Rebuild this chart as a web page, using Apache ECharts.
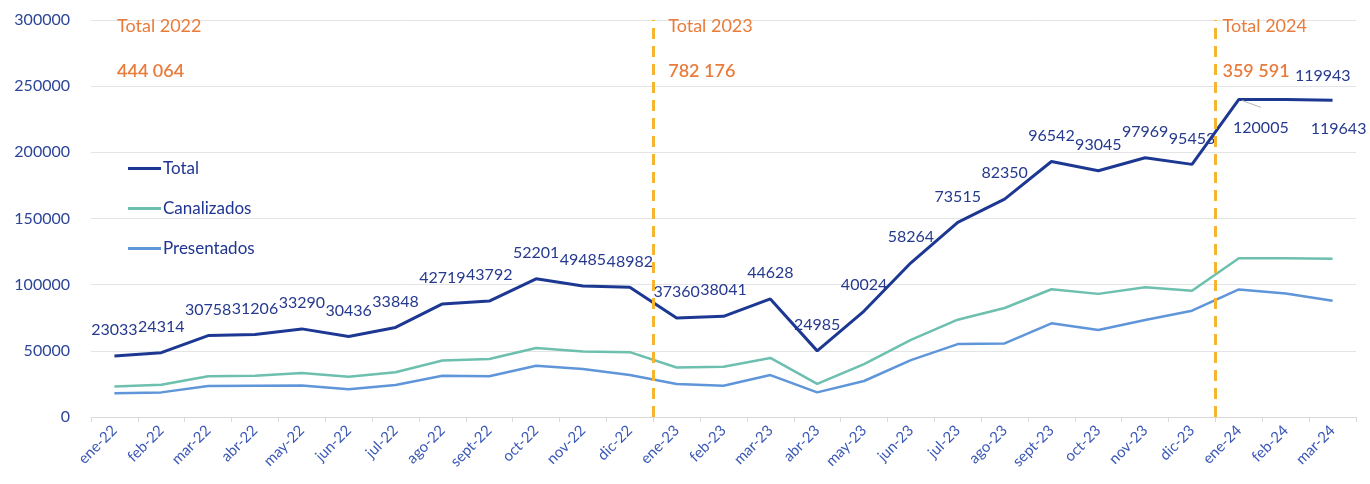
<!DOCTYPE html>
<html>
<head>
<meta charset="utf-8">
<script src="https://cdn.jsdelivr.net/npm/echarts@6/dist/echarts.min.js"></script>
<style>
  html, body { margin: 0; padding: 0; background: #ffffff; }
  #chart { width: 1370px; height: 484px; }
</style>
</head>
<body>
<div id="chart"></div>
<script>
// Months shown on the category axis
const months = ['ene-22','feb-22','mar-22','abr-22','may-22','jun-22','jul-22','ago-22','sept-22','oct-22','nov-22','dic-22',
                'ene-23','feb-23','mar-23','abr-23','may-23','jun-23','jul-23','ago-23','sept-23','oct-23','nov-23','dic-23',
                'ene-24','feb-24','mar-24'];

// Monthly series
const total = [46066, 48628, 61516, 62412, 66580, 60872, 67696, 85438, 87584, 104402, 98970, 97964,
               74720, 76082, 89256, 49970, 80048, 116528, 147030, 164700, 193084, 186090, 195938, 190906,
               240010, 239886, 239286];
const canalizados = [23033, 24314, 30758, 31206, 33290, 30436, 33848, 42719, 43792, 52201, 49485, 48982,
                     37360, 38041, 44628, 24985, 40024, 58264, 73515, 82350, 96542, 93045, 97969, 95453,
                     120005, 119943, 119643];
const presentados = [17900, 18600, 23400, 23600, 23800, 20900, 24200, 31200, 30800, 38700, 36300, 31700,
                     24900, 23600, 31700, 18600, 27200, 43000, 55100, 55600, 70800, 65700, 73300, 80300,
                     96400, 93400, 87800];

// Yearly totals written at the top of each year block
const yearLabels = ['Total 2022', 'Total 2023', 'Total 2024'];
const yearTotals = ['444 064', '782 176', '359 591'];
const yearStartIndex = [0, 12, 24];
// Year separators (between dic and ene)
const yearBreaks = [12, 24];

// Y axis ticks
const yMin = 0, yMax = 300000, yStep = 50000;

const navy = '#1d3893';
const labelBlue = '#25398f';
const orange = '#e97b3b';
const font = 'Lato, "Open Sans", sans-serif';

const chart = echarts.init(document.getElementById('chart'), null, { renderer: 'canvas' });

// Labels on the Total line show the Canalizados value of each month
const totalData = total.map((v, i) => {
  const item = { value: v };
  if (i === 24) {
    item.label = { position: 'bottom', distance: 20, offset: [22, 0] };
  } else if (i === 25) {
    item.label = { offset: [37, 2] };
  } else if (i === 26) {
    item.label = { position: 'bottom', distance: 20, offset: [6, 0] };
  }
  return item;
});

const option = {
  animation: false,
  backgroundColor: '#ffffff',
  textStyle: { fontFamily: font },
  grid: { left: 91, right: 14, top: 20, bottom: 67, containLabel: false },
  legend: {
    data: ['Total', 'Canalizados', 'Presentados'],
    orient: 'vertical',
    left: 123,
    top: 155,
    itemGap: 23,
    itemWidth: 33,
    itemHeight: 3,
    icon: 'rect',
    textStyle: { color: '#1f3590', fontSize: 17, fontFamily: font, padding: [0, 0, 0, -3] }
  },
  xAxis: [{
    type: 'category',
    data: months,
    boundaryGap: true,
    axisLine: { lineStyle: { color: '#d9d9d9', width: 1 } },
    axisTick: { show: true, length: 5, lineStyle: { color: '#d9d9d9' } },
    axisLabel: { rotate: 45, color: '#3b58b5', fontSize: 15, fontFamily: font, margin: 11 }
  }, {
    type: 'value',
    min: 0,
    max: months.length,
    show: false
  }],
  yAxis: {
    type: 'value',
    min: yMin,
    max: yMax,
    interval: yStep,
    axisLine: { show: false },
    axisTick: { show: false },
    splitLine: { lineStyle: { color: '#e4e4e4', width: 1 } },
    axisLabel: { color: '#2c4597', fontSize: 16, fontFamily: font, margin: 21, formatter: v => String(v) }
  },
  series: [{
    name: 'Total',
    type: 'line',
    data: totalData,
    showSymbol: true,
    symbol: 'circle',
    symbolSize: 0,
    lineStyle: { color: navy, width: 3 },
    itemStyle: { color: navy },
    z: 4,
    label: {
      show: true,
      position: 'top',
      distance: 18,
      color: labelBlue,
      fontSize: 16,
      fontFamily: font,
      formatter: p => String(canalizados[p.dataIndex])
    }
  }, {
    name: 'Canalizados',
    type: 'line',
    data: canalizados,
    showSymbol: false,
    symbol: 'none',
    lineStyle: { color: '#6dbfae', width: 2.5 },
    itemStyle: { color: '#6dbfae' },
    z: 3
  }, {
    name: 'Presentados',
    type: 'line',
    data: presentados,
    showSymbol: false,
    symbol: 'none',
    lineStyle: { color: '#5f95d9', width: 2.5 },
    itemStyle: { color: '#5f95d9' },
    z: 3
  }, {
    name: 'Cortes',
    type: 'line',
    xAxisIndex: 1,
    data: [],
    z: 6,
    markLine: {
      silent: true,
      symbol: ['none', 'none'],
      label: { show: false },
      lineStyle: { color: '#f6b52e', type: [11, 7], width: 3 },
      data: yearBreaks.map(b => ({ xAxis: b }))
    }
  }]
};

chart.setOption(option);

// Year totals, placed from the axis scale
const textOffsetX = [26, 15, 7];
const graphics = [];
yearLabels.forEach((lab, k) => {
  const x = chart.convertToPixel({ xAxisIndex: 1 }, yearStartIndex[k]) + textOffsetX[k];
  graphics.push({
    type: 'text', left: x, top: 17,
    style: { text: lab, fill: orange, font: '18px ' + font }
  });
  graphics.push({
    type: 'text', left: x, top: 62,
    style: { text: yearTotals[k], fill: orange, font: '600 18px ' + font }
  });
});
// Short guide from the ene-24 point towards its label
const p24 = chart.convertToPixel({ seriesIndex: 0 }, [24, total[24]]);
graphics.push({
  type: 'line', silent: true, z: 10,
  shape: { x1: p24[0] + 3, y1: p24[1] + 1, x2: p24[0] + 22, y2: p24[1] + 8 },
  style: { stroke: '#b5b5b5', lineWidth: 1 }
});
chart.setOption({ graphic: graphics });
</script>
</body>
</html>
